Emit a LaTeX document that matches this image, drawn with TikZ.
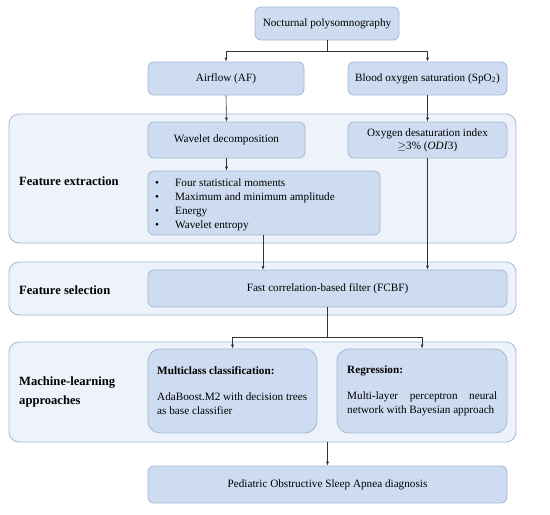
\documentclass[tikz,border=0pt]{standalone}
\usepackage{fontspec}
\setmainfont{Liberation Serif}
\usetikzlibrary{arrows.meta}
\definecolor{boxfill}{HTML}{CDDCF0}
\definecolor{panelfill}{HTML}{EEF2FA}
\definecolor{edge}{HTML}{A3B8D6}
\tikzset{
  panel/.style={draw=edge, fill=panelfill, rounded corners=10pt, line width=0.8pt},
  blk/.style={draw=edge, fill=boxfill, rounded corners=6pt, line width=0.8pt},
  rblk/.style={draw=edge, fill=boxfill, rounded corners=12pt, line width=0.8pt},
  txt/.style={font=\fontsize{11.2}{13}\selectfont, inner sep=0pt},
  lab/.style={font=\fontsize{12.6}{19}\selectfont\bfseries, inner sep=0pt, anchor=west, align=left},
  conn/.style={draw=black!80, line width=0.6pt},
  arr/.style={conn, -{Latex[length=4pt,width=3pt]}},
}
\begin{document}
\begin{tikzpicture}[x=1pt,y=-1pt]
\useasboundingbox (0,0) rectangle (550,515);
% panels
\draw[panel] (9,114) rectangle (516,243);
\draw[panel] (9,262) rectangle (516,315);
\draw[panel] (9,342) rectangle (516,442);
\node[lab] (lfe) at (19,181) {Feature extraction};
\node[lab] (lfs) at (19,290) {Feature selection};
\node[lab] (lml) at (19,392) {Machine-learning\\approaches};
% boxes
\node[blk, minimum width=144pt, minimum height=33pt, txt] (noc) at (327,23.5) {Nocturnal polysomnography};
\node[blk, minimum width=156pt, minimum height=33pt, txt] (af) at (226,78.5) {Airflow (AF)};
\node[blk, minimum width=159pt, minimum height=33pt, txt] (spo) at (427.5,78.5) {Blood oxygen saturation (SpO\textsubscript{2})};
\node[blk, minimum width=157pt, minimum height=36pt, txt] (wd) at (226.5,140) {Wavelet decomposition};
\node[blk, minimum width=159pt, minimum height=36pt, txt, align=center] (odi) at (427.5,140) {Oxygen desaturation index\\$\geq$3\% (\textit{ODI}3)};
\node[blk, minimum width=232pt, minimum height=64pt] (lst) at (264,203) {};
\node[txt, anchor=north west, align=left, font=\fontsize{11.2}{13.8}\selectfont] (lsttxt) at (155,179) {%
\makebox[20pt][l]{\textbullet}Four statistical moments\\
\makebox[20pt][l]{\textbullet}Maximum and minimum amplitude\\
\makebox[20pt][l]{\textbullet}Energy\\
\makebox[20pt][l]{\textbullet}Wavelet entropy};
\node[blk, minimum width=359pt, minimum height=37pt, txt] (fcbf) at (327.5,288.5) {Fast correlation-based filter (FCBF)};
\node[rblk, minimum width=169pt, minimum height=84pt] (mc) at (232.5,391) {};
\node[txt, anchor=north west, align=left, font=\fontsize{11.2}{14}\selectfont] (mctxt) at (157,366) {\textbf{Multiclass classification:}\\[12pt]AdaBoost.M2 with decision trees\\as base classifier};
\node[rblk, minimum width=170pt, minimum height=84pt] (rg) at (422,391) {};
\node[txt, anchor=north west, align=left, font=\fontsize{11.2}{14}\selectfont] (rgtxt) at (347,366) {\textbf{Regression:}\\[12pt]\hbox to 150pt{Multi-layer\hfill perceptron\hfill neural}\\network with Bayesian approach};
\node[blk, minimum width=359pt, minimum height=37pt, txt] (osa) at (327.5,484.5) {Pediatric Obstructive Sleep Apnea diagnosis};
% connectors
\coordinate (j1) at (327,51);
\draw[conn] (noc.south) -- (j1);
\draw[arr] (j1) -| (af.north);
\draw[arr] (j1) -| (spo.north);
\draw[arr] (af.south) -- (wd.north);
\draw[arr] (spo.south) -- (odi.north);
\draw[arr] (wd.south) -- (wd.south |- lst.north);
\draw[arr] (lst.south -| 263,0) -- (263,270);
\draw[arr] (odi.south) -- (odi.south |- fcbf.north);
\coordinate (j2) at (327.5,337);
\draw[conn] (fcbf.south) -- (j2);
\draw[arr] (j2) -| (mc.north);
\draw[arr] (j2) -| (rg.north);
\coordinate (mlb) at (327.5,442);
\draw[arr] (mlb) -- (osa.north);
\end{tikzpicture}
\end{document}
